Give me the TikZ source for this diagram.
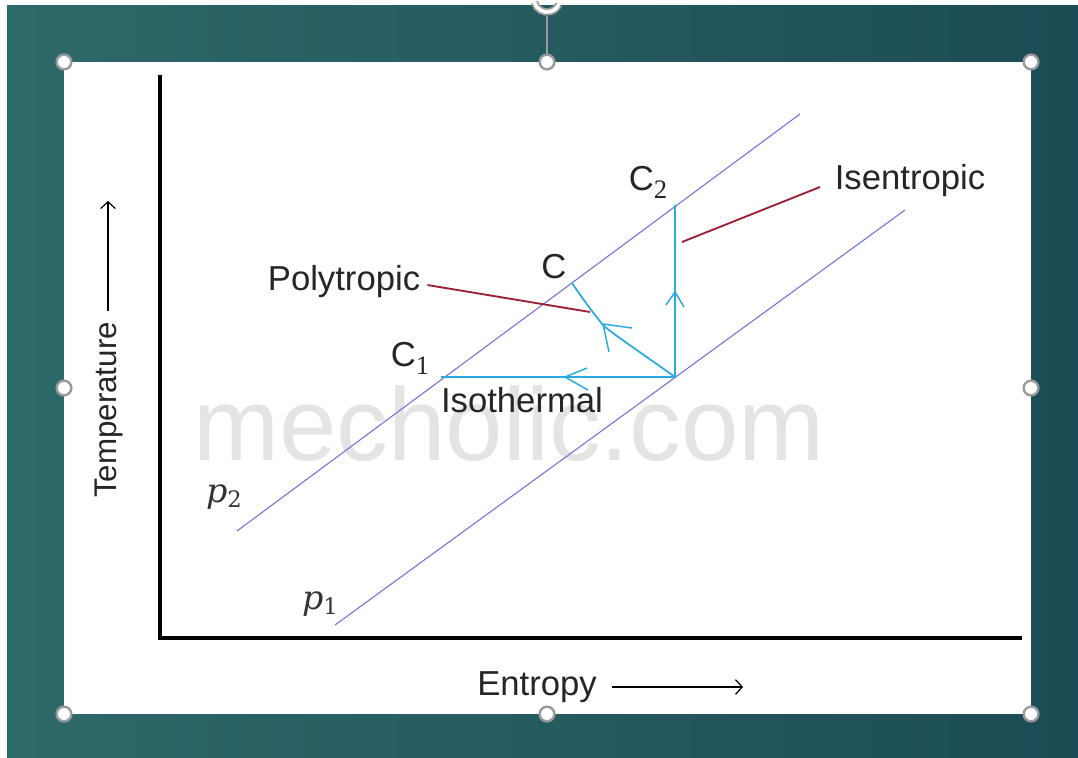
\documentclass[tikz,border=0pt]{standalone}
\usepackage{fontspec}
\setmainfont{Liberation Sans}
\newfontfamily\subdig{Liberation Serif}
\newfontfamily\pfont{DejaVu Serif}
\usetikzlibrary{arrows.meta}
\definecolor{tealleft}{HTML}{2E6969}
\definecolor{tealright}{HTML}{1C4C55}
\definecolor{pline}{HTML}{7272DE}
\definecolor{bline}{HTML}{29AAE2}
\definecolor{rline}{HTML}{9E2038}
\definecolor{wmark}{HTML}{E4E4E4}
\definecolor{hgray}{HTML}{9A9A9A}
\newcommand{\lowsub}[1]{\raisebox{-6pt}{\fontsize{20}{20}\selectfont\subdig #1}}
\newcommand{\pvar}[1]{{\pfont\itshape p}\raisebox{-4pt}{\fontsize{17}{17}\selectfont\pfont #1}}
\tikzset{
  lbl/.style={font=\fontsize{26}{30}\selectfont, text=black!85, inner sep=0pt},
  plbl/.style={font=\fontsize{25}{28}\selectfont, text=black!80, inner sep=0pt},
  iso/.style={pline, line width=0.8pt},
  proc/.style={bline, line width=1.5pt},
  barb/.style={bline, line width=1.1pt, line join=miter},
  leader/.style={rline, line width=1.4pt},
  axis/.style={black, line width=3pt},
  handle/.style={circle, minimum size=11pt, inner sep=0pt, fill=white, draw=hgray, line width=1.8pt},
  dirarrow/.style={black, line width=0.9pt, -{Straight Barb[length=5pt,width=11pt]}}
}
\begin{document}
\begin{tikzpicture}[x=0.75pt,y=-0.75pt]
\useasboundingbox (0,0) rectangle (1078,757);
\fill[white] (0,0) rectangle (1078,757);
\shade[left color=tealleft, right color=tealright] (7,5) rectangle (1078,757);
\fill[white] (64,62) rectangle (1031,714);

% watermark
\node[anchor=base, text=wmark, inner sep=0pt, font=\fontsize{77.5}{80}\selectfont] (wm) at (509,460) {mecholic.com};

% axes
\coordinate (ytop) at (160,75);
\coordinate (orig) at (160,638);
\coordinate (xend) at (1022,638);
\draw[axis] (ytop) -- (orig) -- (xend);

% isobars
\coordinate (p2s) at (237,531);
\coordinate (p2e) at (800,114);
\coordinate (p1s) at (335,625);
\coordinate (p1e) at (905,210);
\draw[iso] (p2s) -- (p2e);
\draw[iso] (p1s) -- (p1e);

% process lines
\coordinate (A) at (675,377);
\coordinate (C2) at (675,205);
\coordinate (C1) at (441,377);
\coordinate (Cp) at (572,283);
\coordinate (Cm) at (603,325);
\draw[proc] (A) -- (C2);
\draw[proc] (A) -- (C1);
\draw[proc, line width=1.3pt] (A) .. controls (640,352) and (610,332) .. (Cm) .. controls (594,314) and (582,298) .. (Cp);

% barbs
\draw[barb] (587,368) -- (565,377) -- (588,390);
\draw[barb] (666,305) -- (675,292) -- (684,307);
\draw[barb] (632,328) -- (603,324) -- (609,352);

% labels
\node[lbl] (lC2) at (648,182) {C\lowsub{2}};
\node[lbl] (lIsen) at (910,181) {Isentropic};
\node[lbl] (lC) at (554,267) {C};
\node[lbl] (lPoly) at (344,282) {Polytropic};
\node[lbl] (lC1) at (410,358) {C\lowsub{1}};
\node[lbl] (lIsot) at (522,400) {Isothermal};
\node[plbl] (lp2) at (224,497) {\pvar{2}};
\node[plbl] (lp1) at (320,604) {\pvar{1}};

% leaders
\coordinate (polyEnd) at (590,312);
\coordinate (isenEnd) at (682,242);
\draw[leader] (lPoly.east) ++(7,3) coordinate (polyStart) -- (polyEnd);
\draw[leader] (isenEnd) -- (820,187) coordinate (isenStart);

% axis titles
\node[lbl, rotate=90, font=\fontsize{23.5}{28}\selectfont] (lT) at (109,410) {Temperature};
\coordinate (tA) at (108,311);
\coordinate (tB) at (108,201);
\draw[dirarrow] (tA) -- (tB);
\node[lbl] (lS) at (537,687) {Entropy};
\coordinate (sA) at (612,687);
\coordinate (sB) at (743,687);
\draw[dirarrow] (sA) -- (sB);

% rotation handle
\coordinate (rotBase) at (547,62);
\coordinate (rotTop) at (547,16);
\draw[hgray, line width=0.9pt] (rotBase) -- (rotTop);
\draw[hgray, line width=5.5pt] (547,-1) ++(165:13) arc[start angle=165, end angle=25, radius=13];
\draw[white, line width=2.8pt] (547,-1) ++(165:13) arc[start angle=165, end angle=25, radius=13];

% selection handles
\node[handle] (h1) at (64,62) {};
\node[handle] (h2) at (547,62) {};
\node[handle] (h3) at (1031,62) {};
\node[handle] (h4) at (64,388) {};
\node[handle] (h5) at (1031,388) {};
\node[handle] (h6) at (64,714) {};
\node[handle] (h7) at (547,714) {};
\node[handle] (h8) at (1031,714) {};
\end{tikzpicture}
\end{document}
